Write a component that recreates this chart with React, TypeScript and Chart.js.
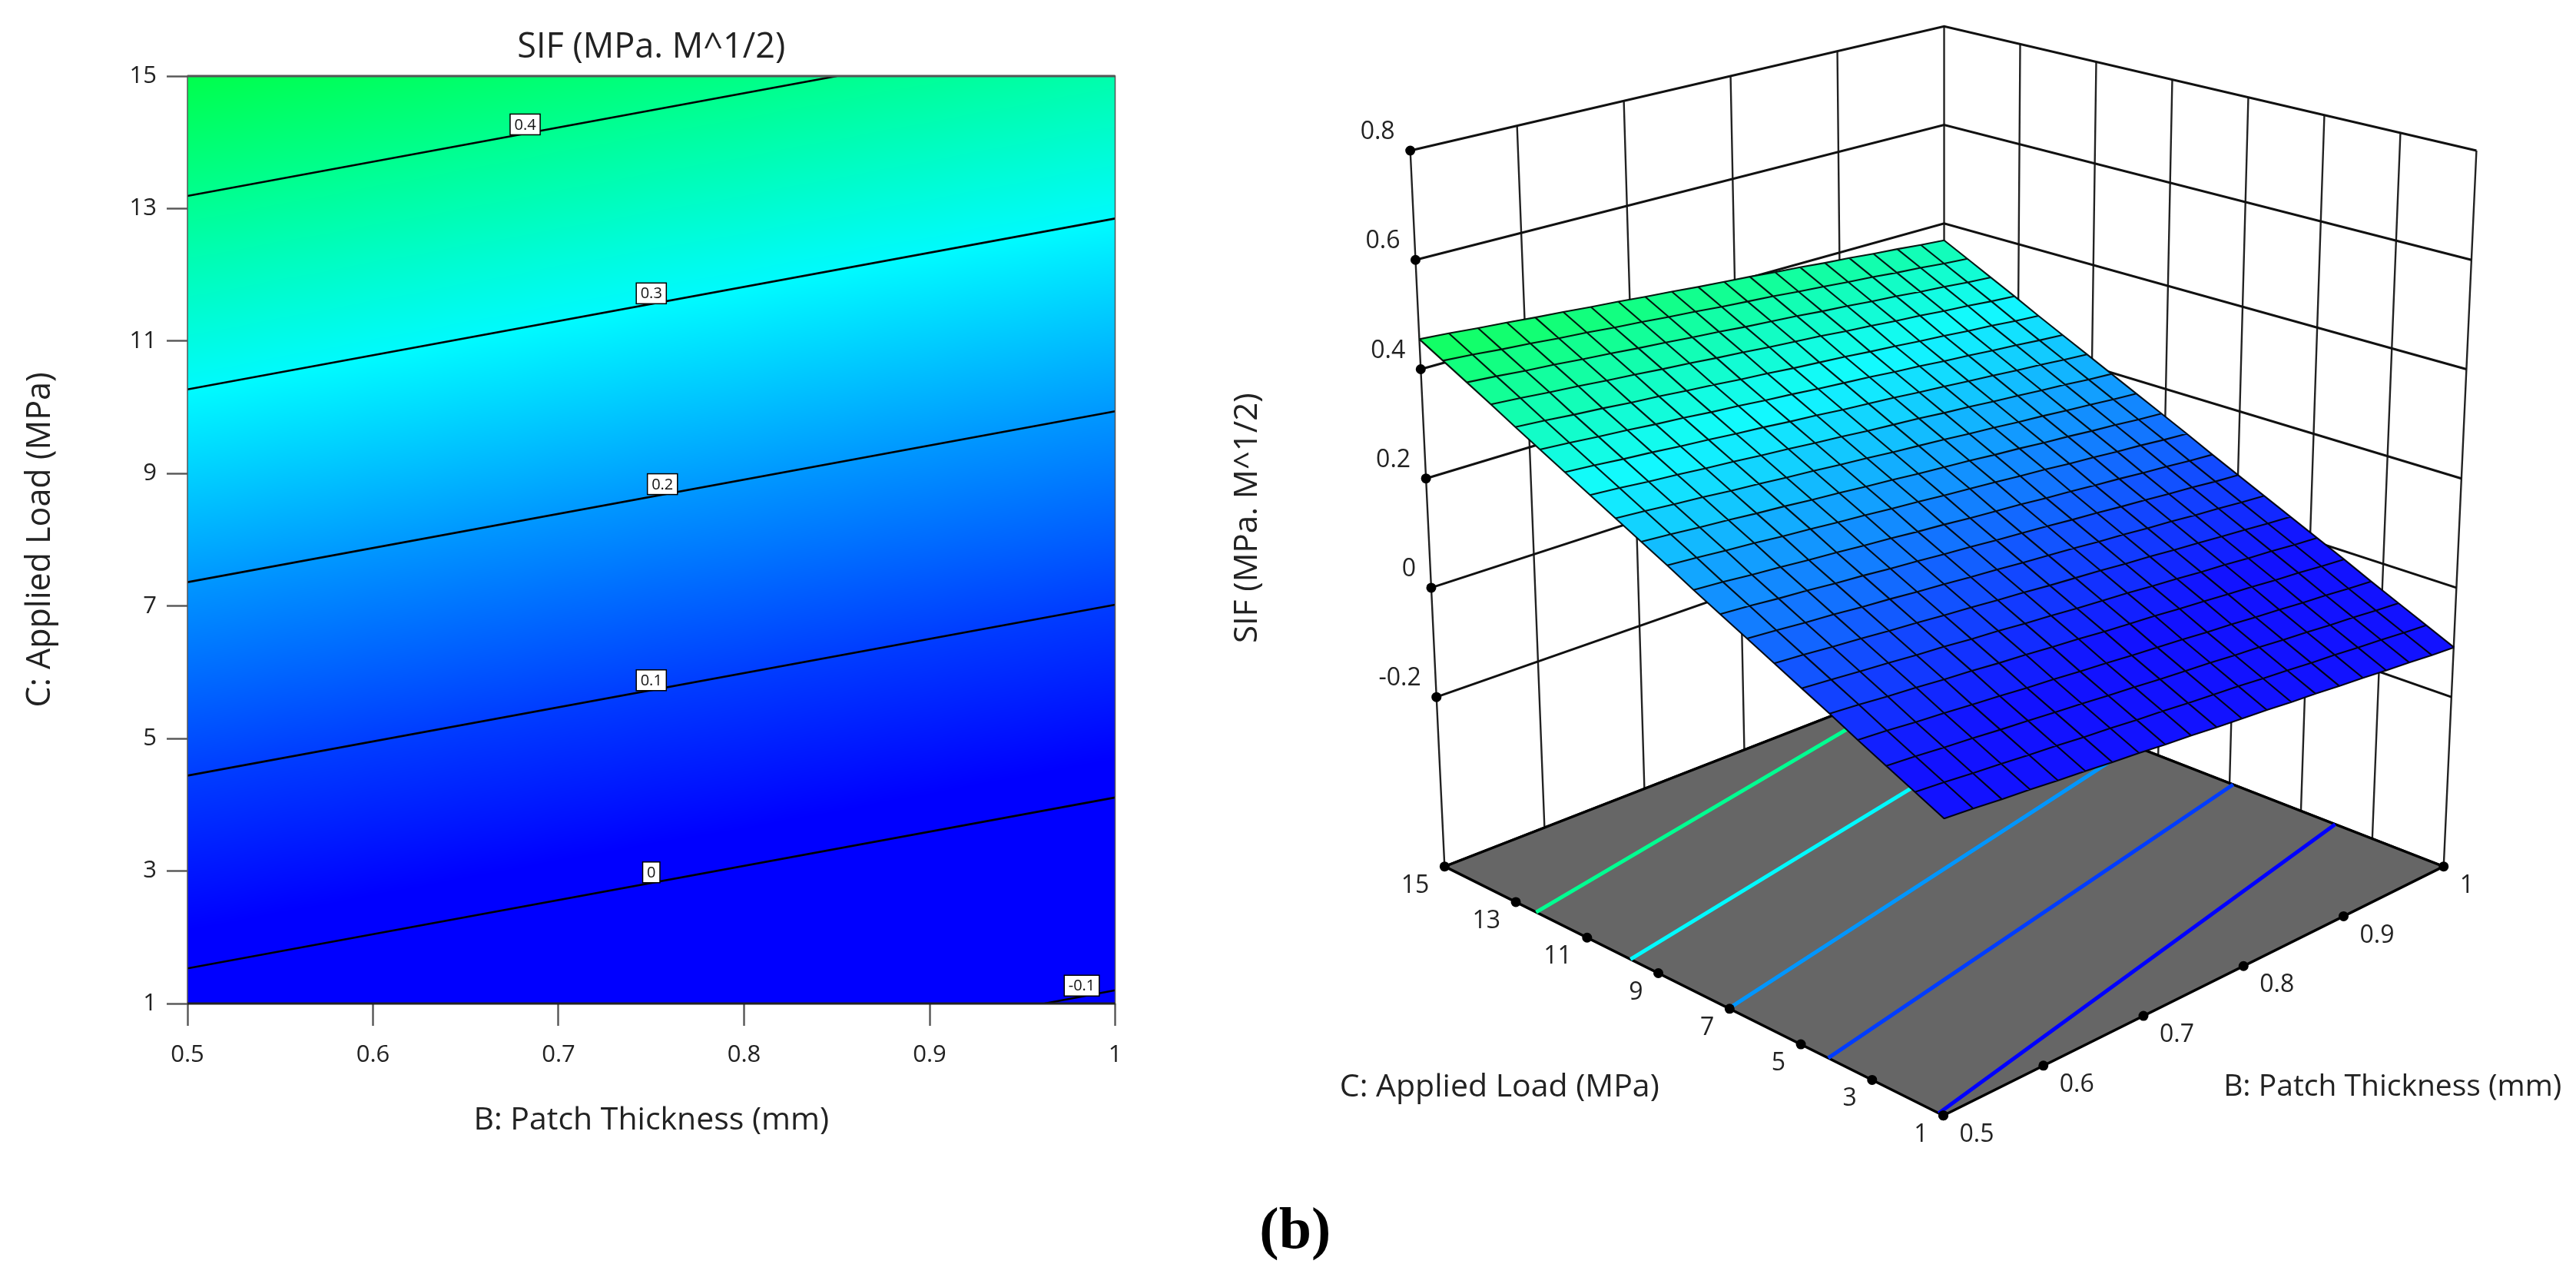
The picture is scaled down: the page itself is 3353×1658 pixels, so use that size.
import React, { useEffect, useRef } from "react";
import { Chart, registerables } from "chart.js";

Chart.register(...registerables);
Chart.defaults.font.family = "'Open Sans', sans-serif";

const bNodes = [0.5, 0.525, 0.55, 0.575, 0.6, 0.625, 0.65, 0.675, 0.7, 0.725, 0.75, 0.775, 0.8, 0.825, 0.85, 0.875, 0.9, 0.925, 0.95, 0.975, 1];
const cNodes = [1, 1.7, 2.4, 3.1, 3.8, 4.5, 5.2, 5.9, 6.6, 7.3, 8, 8.7, 9.4, 10.1, 10.8, 11.5, 12.2, 12.9, 13.6, 14.3, 15];
// SIF read at each (C row, B column) node
const sifGrid = [
  [-.018,-.022,-.027,-.031,-.036,-.040,-.045,-.049,-.054,-.058,-.063,-.067,-.071,-.076,-.080,-.085,-.089,-.094,-.098,-.103,-.107],
  [.006,.002,-.003,-.007,-.012,-.016,-.021,-.025,-.030,-.034,-.039,-.043,-.047,-.052,-.056,-.061,-.065,-.070,-.074,-.079,-.083],
  [.030,.026,.021,.017,.012,.008,.003,-.001,-.006,-.010,-.015,-.019,-.023,-.028,-.032,-.037,-.041,-.046,-.050,-.055,-.059],
  [.054,.050,.045,.041,.036,.032,.027,.023,.018,.014,.009,.005,.001,-.004,-.008,-.013,-.017,-.022,-.026,-.031,-.035],
  [.079,.075,.070,.066,.061,.057,.052,.048,.043,.039,.034,.030,.026,.021,.017,.012,.008,.003,-.001,-.006,-.010],
  [.103,.099,.094,.090,.085,.081,.076,.072,.067,.063,.058,.054,.050,.045,.041,.036,.032,.027,.023,.018,.014],
  [.127,.123,.118,.114,.109,.105,.100,.096,.091,.087,.082,.078,.074,.069,.065,.060,.056,.051,.047,.042,.038],
  [.151,.147,.142,.138,.133,.129,.124,.120,.115,.111,.106,.102,.098,.093,.089,.084,.080,.075,.071,.066,.062],
  [.175,.171,.166,.162,.157,.153,.148,.144,.139,.135,.130,.126,.122,.117,.113,.108,.104,.099,.095,.090,.086],
  [.199,.195,.190,.186,.181,.177,.172,.168,.163,.159,.154,.150,.146,.141,.137,.132,.128,.123,.119,.114,.110],
  [.224,.220,.215,.211,.206,.202,.197,.193,.188,.184,.179,.175,.171,.166,.162,.157,.153,.148,.144,.139,.135],
  [.248,.244,.239,.235,.230,.226,.221,.217,.212,.208,.203,.199,.195,.190,.186,.181,.177,.172,.168,.163,.159],
  [.272,.268,.263,.259,.254,.250,.245,.241,.236,.232,.227,.223,.219,.214,.210,.205,.201,.196,.192,.187,.183],
  [.296,.292,.287,.283,.278,.274,.269,.265,.260,.256,.251,.247,.243,.238,.234,.229,.225,.220,.216,.211,.207],
  [.320,.316,.311,.307,.302,.298,.293,.289,.284,.280,.275,.271,.267,.262,.258,.253,.249,.244,.240,.235,.231],
  [.344,.340,.335,.331,.326,.322,.317,.313,.308,.304,.299,.295,.291,.286,.282,.277,.273,.268,.264,.259,.255],
  [.368,.364,.359,.355,.350,.346,.341,.337,.332,.328,.323,.319,.315,.310,.306,.301,.297,.292,.288,.283,.279],
  [.393,.389,.384,.380,.375,.371,.366,.362,.357,.353,.348,.344,.340,.335,.331,.326,.322,.317,.313,.308,.304],
  [.417,.413,.408,.404,.399,.395,.390,.386,.381,.377,.372,.368,.364,.359,.355,.350,.346,.341,.337,.332,.328],
  [.441,.437,.432,.428,.423,.419,.414,.410,.405,.401,.396,.392,.388,.383,.379,.374,.370,.365,.361,.356,.352],
  [.465,.461,.456,.452,.447,.443,.438,.434,.429,.425,.420,.416,.412,.407,.403,.398,.394,.389,.385,.380,.376],
];

// Colour ramp
const rampZ = [-0.13, 0.02, 0.1, 0.2, 0.3, 0.4, 0.48];
const rampG = [0, 0, 60, 150, 250, 255, 255];
const rampB = [255, 255, 255, 255, 255, 145, 60];

// Contour plot
const contourLevels = ["0.4", "0.3", "0.2", "0.1", "0", "-0.1"];
const contourStartB = [0.5, 0.5, 0.5, 0.5, 0.5, 0.962];
const contourStartC = [13.19, 10.27, 7.36, 4.44, 1.53, 1];
const contourEndB = [0.85, 1, 1, 1, 1, 1];
const contourEndC = [15, 12.85, 9.94, 7.02, 4.11, 1.2];
const contourLabelB = [0.682, 0.75, 0.756, 0.75, 0.75, 0.982];
const contourLabelC = [14.27, 11.72, 8.84, 5.88, 2.98, 1.27];

// 3D plot
const sifTicks3D = [-0.2, 0, 0.2, 0.4, 0.6, 0.8];
const bTicks3D = [0.5, 0.6, 0.7, 0.8, 0.9, 1];
const cTicks3D = [1, 3, 5, 7, 9, 11, 13, 15];
const floorLevels = [0.4, 0.3, 0.2, 0.1, 0];
const floorStartC = [12.43, 9.78, 7.02, 4.23, 1.13];
const floorEndC = [15, 12.3, 9.68, 6.9, 4.04];

const titleText = "SIF (MPa. M^1/2)";
const xTitle = "B: Patch Thickness (mm)";
const yTitle = "C: Applied Load (MPa)";
const panelLabel = "(b)";

function ramp(z: number): [number, number, number] {
  let i = 0;
  while (i < rampZ.length - 2 && z > rampZ[i + 1]) i++;
  const t = Math.max(0, Math.min(1, (z - rampZ[i]) / (rampZ[i + 1] - rampZ[i])));
  return [0, rampG[i] + (rampG[i + 1] - rampG[i]) * t, rampB[i] + (rampB[i + 1] - rampB[i]) * t];
}

function sifAt(b: number, c: number): number {
  const fu = Math.max(0, Math.min(19.9999, (b - 0.5) / 0.025));
  const fv = Math.max(0, Math.min(19.9999, (c - 1) / 0.7));
  const j = Math.floor(fu), k = Math.floor(fv);
  const a = fu - j, e = fv - k;
  return (sifGrid[k][j] * (1 - a) + sifGrid[k][j + 1] * a) * (1 - e) + (sifGrid[k + 1][j] * (1 - a) + sifGrid[k + 1][j + 1] * a) * e;
}

// View of the response surface (perspective camera fitted to the picture)
function project(b: number, c: number, z: number) {
  const u = (b - 0.5) / 0.5, v = (c - 1) / 14, w = (z + 0.534) / 1.3333;
  const d = 1 + 0.14 * (u + v) - 0.0733 * w;
  return { x: 2531 + (746.7 * (u - v)) / d, y: (1456.6 - 168.4 * (u + v) - 1084.5 * w) / d };
}

// View of the box: its floor and walls keep evenly spaced ticks
const boxFloor = { F: [2530, 1456.6], L: [1876, 1130], R: [3186, 1130], K: [2531, 875] };
const boxTop = { F: [2530, 400], L: [1831, 191], R: [3229, 191], K: [2531, 28] };
function boxPoint(b: number, c: number, z: number) {
  const u = (b - 0.5) / 0.5, v = (c - 1) / 14, w = (z + 0.51) / 1.31;
  const bil = (q: any, i: number) => q.F[i] * (1 - u) * (1 - v) + q.R[i] * u * (1 - v) + q.L[i] * (1 - u) * v + q.K[i] * u * v;
  return { x: bil(boxFloor, 0) * (1 - w) + bil(boxTop, 0) * w, y: bil(boxFloor, 1) * (1 - w) + bil(boxTop, 1) * w };
}
const FLOOR = -0.51;
const gap = { x: NaN, y: NaN };
const joinRuns = (runs: any[][]) => runs.flatMap((r, i) => (i ? [gap, ...r] : r));

function contourData() {
  return contourLevels.map((lv, i) => ({
    label: "SIF " + lv,
    data: [{ x: contourStartB[i], y: contourStartC[i] }, { x: contourEndB[i], y: contourEndC[i] }],
    showLine: true,
    borderColor: "#000",
    borderWidth: 2.6,
    pointRadius: 0,
  }));
}

const fieldPlugin = {
  id: "field",
  beforeDatasetsDraw(chart: any) {
    const { ctx, chartArea: a, scales } = chart;
    const w = Math.round(a.right - a.left), h = Math.round(a.bottom - a.top);
    const img = ctx.createImageData(w, h);
    for (let py = 0; py < h; py++) {
      const c = scales.y.getValueForPixel(a.top + py + 0.5);
      for (let px = 0; px < w; px++) {
        const b = scales.x.getValueForPixel(a.left + px + 0.5);
        const col = ramp(sifAt(b, c));
        const o = (py * w + px) * 4;
        img.data[o] = col[0]; img.data[o + 1] = col[1]; img.data[o + 2] = col[2]; img.data[o + 3] = 255;
      }
    }
    ctx.putImageData(img, Math.round(a.left), Math.round(a.top));
  },
  afterDatasetsDraw(chart: any) {
    const { ctx, chartArea: a, scales } = chart;
    ctx.save();
    ctx.strokeStyle = "#555";
    ctx.lineWidth = 1.5;
    ctx.strokeRect(a.left, a.top, a.right - a.left, a.bottom - a.top);
    ctx.lineWidth = 3;
    ctx.beginPath(); ctx.moveTo(a.left, a.top); ctx.lineTo(a.right, a.top); ctx.stroke();
    ctx.strokeStyle = "#222";
    ctx.beginPath(); ctx.moveTo(a.left, a.bottom); ctx.lineTo(a.right, a.bottom); ctx.stroke();
    ctx.font = "20px 'Open Sans'";
    ctx.textAlign = "center";
    ctx.textBaseline = "middle";
    contourLevels.forEach((lv, i) => {
      const x = scales.x.getPixelForValue(contourLabelB[i]);
      const y = scales.y.getPixelForValue(contourLabelC[i]);
      const w = ctx.measureText(lv).width + 11;
      const h = 27;
      ctx.fillStyle = "#fff";
      ctx.strokeStyle = "#000";
      ctx.lineWidth = 1.5;
      ctx.fillRect(x - w / 2, y - h / 2, w, h);
      ctx.strokeRect(x - w / 2, y - h / 2, w, h);
      ctx.fillStyle = "#111";
      ctx.fillText(lv, x, y + 1);
    });
    ctx.restore();
  },
};

const surfacePlugin = {
  id: "surface",
  beforeDatasetDraw(chart: any, args: any) {
    if (chart.data.datasets[args.index].label !== "Surface mesh") return;
    const { ctx, scales } = chart;
    const px = (p: any) => [scales.x.getPixelForValue(p.x), scales.y.getPixelForValue(p.y)];
    ctx.save();
    for (let k = 0; k < cNodes.length - 1; k++) {
      for (let j = 0; j < bNodes.length - 1; j++) {
        const corners = [[k, j], [k, j + 1], [k + 1, j + 1], [k + 1, j]].map(([r, s]) => px(project(bNodes[s], cNodes[r], sifGrid[r][s])));
        const z = (sifGrid[k][j] + sifGrid[k][j + 1] + sifGrid[k + 1][j] + sifGrid[k + 1][j + 1]) / 4;
        const c = ramp(z).map((v) => Math.round(v + (255 - v) * 0.07));
        ctx.fillStyle = ctx.strokeStyle = `rgb(${c[0]},${c[1]},${c[2]})`;
        ctx.lineWidth = 1;
        ctx.beginPath();
        corners.forEach((p, i) => (i ? ctx.lineTo(p[0], p[1]) : ctx.moveTo(p[0], p[1])));
        ctx.closePath();
        ctx.fill();
        ctx.stroke();
      }
    }
    ctx.restore();
  },
  afterDatasetsDraw(chart: any) {
    const { ctx, scales } = chart;
    const text = (s: string, p: any, dx: number, dy: number, align: CanvasTextAlign) => {
      ctx.textAlign = align;
      ctx.fillText(s, scales.x.getPixelForValue(p.x) + dx, scales.y.getPixelForValue(p.y) + dy);
    };
    ctx.save();
    ctx.fillStyle = "#222";
    ctx.textBaseline = "middle";
    ctx.font = "32px 'Open Sans'";
    sifTicks3D.forEach((z) => text(String(z), boxPoint(0.5, 15, z), -20, -24, "right"));
    cTicks3D.forEach((c) => text(String(c), boxPoint(0.5, c, FLOOR), -20, 25, "right"));
    bTicks3D.forEach((b) => text(String(b), boxPoint(b, 1, FLOOR), 21, 25, "left"));
    ctx.textAlign = "center";
    ctx.font = "39px 'Open Sans'";
    ctx.fillText(xTitle, scales.x.getPixelForValue(3119), scales.y.getPixelForValue(1420));
    ctx.font = "41px 'Open Sans'";
    ctx.fillText(yTitle, scales.x.getPixelForValue(1948), scales.y.getPixelForValue(1420));
    ctx.save();
    ctx.translate(scales.x.getPixelForValue(1618), scales.y.getPixelForValue(673));
    ctx.rotate(-Math.PI / 2);
    ctx.font = "42px 'Open Sans'";
    ctx.fillText(titleText, 0, 0);
    ctx.restore();
    ctx.font = "bold 76px 'Liberation Serif'";
    ctx.fillStyle = "#000";
    ctx.fillText(panelLabel, scales.x.getPixelForValue(1680), scales.y.getPixelForValue(1610));
    ctx.restore();
  },
};

function surfaceDatasets() {
  const horiz = [...sifTicks3D, FLOOR].map((z) => [boxPoint(0.5, 15, z), boxPoint(1, 15, z), boxPoint(1, 1, z)]);
  const verts = [
    ...bTicks3D.map((b) => [boxPoint(b, 15, FLOOR), boxPoint(b, 15, 0.8)]),
    ...cTicks3D.map((c) => [boxPoint(1, c, FLOOR), boxPoint(1, c, 0.8)]),
  ];
  const meshRows = cNodes.map((c, k) => bNodes.map((b, j) => project(b, c, sifGrid[k][j])));
  const meshCols = bNodes.map((b, j) => cNodes.map((c, k) => project(b, c, sifGrid[k][j])));
  const line = (label: string, data: any[], color: string, width: number, order: number, extra = {}) => ({
    label, data, showLine: true, borderColor: color, borderWidth: width, pointRadius: 0, order, ...extra,
  });
  const floorCorners = [boxPoint(0.5, 1, FLOOR), boxPoint(0.5, 15, FLOOR), boxPoint(1, 15, FLOOR), boxPoint(1, 1, FLOOR), boxPoint(0.5, 1, FLOOR)];
  return [
    line("Wall verticals", joinRuns(verts), "#222", 2.4, 60),
    line("Wall levels", joinRuns(horiz), "#111", 3, 50),
    line("Floor", floorCorners, "#000", 3.4, 40, { fill: "shape", backgroundColor: "#666666" }),
    ...floorLevels.map((lv, i) => {
      const c = ramp(lv);
      return line("Floor contour " + lv, [boxPoint(0.5, floorStartC[i], FLOOR), boxPoint(1, floorEndC[i], FLOOR)], `rgb(${c[0]},${c[1]},${c[2]})`, 5, 30);
    }),
    line("Surface mesh", joinRuns([...meshRows, ...meshCols]), "rgba(0,0,0,0.9)", 2.1, 10),
    {
      label: "Ticks",
      data: [
        ...sifTicks3D.map((z) => boxPoint(0.5, 15, z)),
        ...cTicks3D.map((c) => boxPoint(0.5, c, FLOOR)),
        ...bTicks3D.map((b) => boxPoint(b, 1, FLOOR)),
      ],
      pointRadius: 6.5,
      pointBackgroundColor: "#000",
      pointBorderWidth: 0,
      order: 5,
    },
  ];
}

export default function App() {
  const leftRef = useRef<HTMLCanvasElement>(null);
  const rightRef = useRef<HTMLCanvasElement>(null);
  useEffect(() => {
    const left = new Chart(leftRef.current!, {
      type: "scatter",
      data: { datasets: contourData() as any },
      plugins: [fieldPlugin],
      options: {
        animation: false,
        responsive: false,
        devicePixelRatio: 1,
        events: [],
        layout: { padding: { top: 35, right: 128.5, left: 0, bottom: 0 } },
        plugins: {
          legend: { display: false },
          tooltip: { enabled: false },
          title: { display: true, text: titleText, color: "#222", fullSize: false, font: { size: 45, weight: "normal" }, padding: { top: 0, bottom: 10 } },
        },
        scales: {
          x: {
            type: "linear", min: 0.5, max: 1,
            afterFit: (s: any) => { s.height = 352; },
            grid: { drawOnChartArea: false, tickLength: 29, tickColor: "#555", tickWidth: 2.4 },
            border: { display: false },
            ticks: { stepSize: 0.1, autoSkip: false, maxRotation: 0, padding: 20, color: "#222", font: { size: 31 }, callback: (v: any) => String(+(+v).toFixed(1)) },
            title: { display: true, text: xTitle, color: "#222", font: { size: 41 }, padding: { bottom: 175, top: 0 } },
          },
          y: {
            type: "linear", min: 1, max: 15,
            afterFit: (s: any) => { s.width = 244; },
            grid: { drawOnChartArea: false, tickLength: 27, tickColor: "#555", tickWidth: 2.4 },
            border: { display: false },
            ticks: { stepSize: 2, autoSkip: false, padding: 13, color: "#222", font: { size: 31 }, callback: (v: any) => String(Math.round(+v)) },
            title: { display: true, text: yTitle, color: "#222", font: { size: 43 }, padding: { top: 27, bottom: 0 } },
          },
        },
      } as any,
    });
    const right = new Chart(rightRef.current!, {
      type: "scatter",
      data: { datasets: surfaceDatasets() as any },
      plugins: [surfacePlugin],
      options: {
        animation: false,
        responsive: false,
        devicePixelRatio: 1,
        events: [],
        layout: { padding: 0 },
        plugins: { legend: { display: false }, tooltip: { enabled: false } },
        scales: {
          x: { type: "linear", min: 1580, max: 3353, display: false },
          y: { type: "linear", min: 0, max: 1658, reverse: true, display: false },
        },
      } as any,
    });
    return () => { left.destroy(); right.destroy(); };
  }, []);
  return (
    <div style={{ position: "absolute", left: 0, top: 0, width: 3353, height: 1658, background: "#fff", overflow: "hidden" }}>
      <canvas ref={leftRef} width={1580} height={1658} style={{ position: "absolute", left: 0, top: 0 }} />
      <canvas ref={rightRef} width={1773} height={1658} style={{ position: "absolute", left: 1580, top: 0 }} />
    </div>
  );
}
